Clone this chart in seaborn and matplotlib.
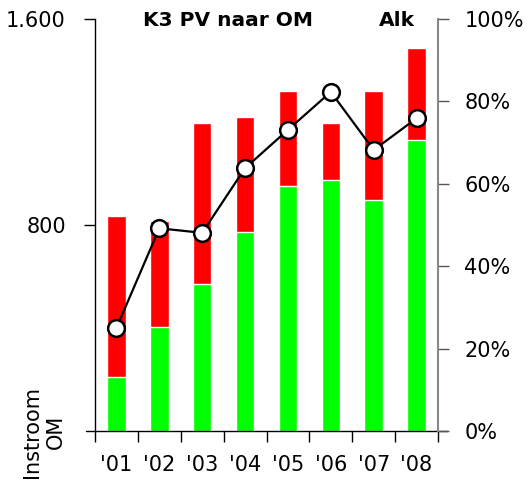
import numpy as np
import matplotlib
matplotlib.use("Agg")
import matplotlib.pyplot as plt
import seaborn as sns

# data
years = ["'01", "'02", "'03", "'04", "'05", "'06", "'07", "'08"]
green = [210, 405, 572, 774, 952, 976, 897, 1131]   # bottom segment
red = [626, 410, 624, 445, 368, 220, 423, 356]      # top segment
share_pct = [25.0, 49.2, 48.1, 63.8, 73.1, 82.3, 68.2, 75.9]
left_ticks = [800, 1600]
left_labels = ["800", "1.600"]
right_ticks = [0, 20, 40, 60, 80, 100]

sns.set_style("white")
plt.rcParams["font.family"] = ["DejaVu Sans"]
plt.rcParams["font.size"] = 15
plt.rcParams["text.color"] = "black"
plt.rcParams["xtick.labelcolor"] = "black"
plt.rcParams["ytick.labelcolor"] = "black"

totals = [g + r for g, r in zip(green, red)]

fig = plt.figure(figsize=(5.28, 4.90), dpi=100)
ax = fig.add_axes([95 / 528, 1 - 431 / 490, (438 - 95) / 528, (431 - 19) / 490])

# stacked bars: total in red, green drawn over it
sns.barplot(x=years, y=totals, color="#ff0000", saturation=1, width=0.43,
            errorbar=None, ax=ax)
sns.barplot(x=years, y=green, color="#00ff00", saturation=1, width=0.43,
            errorbar=None, ax=ax)

ax.set_xlim(-0.5, len(years) - 0.5)
ax.set_ylim(0, 1600)
ax.set_xlabel("")
ax.set_ylabel("")
ax.set_yticks(left_ticks)
ax.set_yticklabels(left_labels)
ax.set_xticks(np.arange(len(years)))
ax.set_xticklabels(years)
ax.set_xticks(np.arange(-0.5, len(years)), minor=True)
ax.tick_params(axis="x", which="major", length=0, pad=17, labelsize=15)
ax.tick_params(axis="x", which="minor", length=8, width=1, direction="out",
               color="black", bottom=True)
ax.tick_params(axis="y", length=8, width=1, direction="out", pad=13,
               labelsize=15, left=True, color="black")
for s in ["top", "right", "bottom"]:
    ax.spines[s].set_visible(False)
ax.spines["left"].set_color("black")
ax.spines["left"].set_linewidth(1)
# baseline running a bit past both spines
ax.plot([-0.025, 1.025], [0, 0], transform=ax.transAxes, color="black",
        lw=1, clip_on=False)

# share line on the right axis
ax2 = ax.twinx()
sns.lineplot(x=np.arange(len(years)), y=share_pct, ax=ax2, color="black",
             lw=1.6, marker="o", markersize=12, markerfacecolor="white",
             markeredgecolor="black", markeredgewidth=1.8, clip_on=False)
ax2.set_ylim(0, 100)
ax2.set_xlim(-0.5, len(years) - 0.5)
ax2.set_yticks(right_ticks)
ax2.set_yticklabels([f"{t}%" for t in right_ticks])
ax2.tick_params(axis="y", length=8, width=1, direction="out", pad=11,
                labelsize=15, right=True, color="#555555")
for s in ["top", "left", "bottom"]:
    ax2.spines[s].set_visible(False)
ax2.spines["right"].set_color("#888888")
ax2.spines["right"].set_linewidth(1.5)
ax2.set_ylabel("")

fig.text(228 / 528, 1 - 21 / 490, "K3 PV naar OM", ha="center", va="center",
         fontsize=14.5, fontweight="bold")
fig.text(415 / 528, 1 - 21 / 490, "Alk", ha="right", va="center",
         fontsize=14.5, fontweight="bold")
fig.text(44 / 528, 1 - 432 / 490, "Instroom\nOM", rotation=90, ha="center",
         va="center", multialignment="center", fontsize=15)

fig.savefig("out.png", dpi=100)
